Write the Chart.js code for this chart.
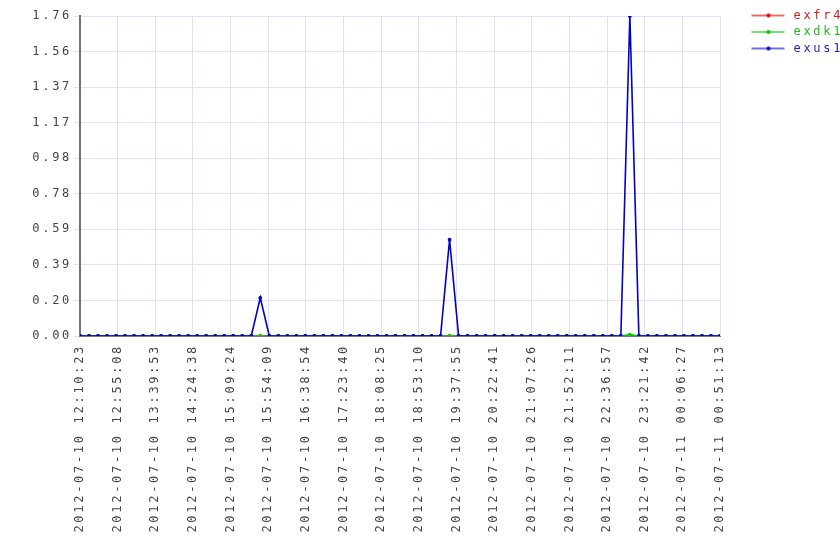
<!DOCTYPE html>
<html>
<head>
<meta charset="utf-8">
<script src="https://cdn.jsdelivr.net/npm/chart.js@4.4.1/dist/chart.umd.min.js"></script>
<style>
  html, body { margin: 0; padding: 0; background: #fff; }
</style>
</head>
<body>
<canvas id="chart" width="840" height="560"></canvas>
<script>
// x axis tick labels (evenly spaced over the time range)
const xTickLabels = [
    "2012-07-10 12:10:23", "2012-07-10 12:55:08", "2012-07-10 13:39:53",
    "2012-07-10 14:24:38", "2012-07-10 15:09:24", "2012-07-10 15:54:09",
    "2012-07-10 16:38:54", "2012-07-10 17:23:40", "2012-07-10 18:08:25",
    "2012-07-10 18:53:10", "2012-07-10 19:37:55", "2012-07-10 20:22:41",
    "2012-07-10 21:07:26", "2012-07-10 21:52:11", "2012-07-10 22:36:57",
    "2012-07-10 23:21:42", "2012-07-11 00:06:27", "2012-07-11 00:51:13"
];
const yTickLabels = ["0.00", "0.20", "0.39", "0.59", "0.78", "0.98", "1.17", "1.37", "1.56", "1.76"];
const yMax = 1.76;

const seriesNames = ["exfr4", "exdk1", "exus1"];

// 72 samples each
const exfr4 = [
    0, 0, 0, 0, 0, 0, 0, 0, 0, 0, 0, 0, 0, 0, 0, 0, 0, 0, 0, 0,
    0, 0, 0, 0, 0, 0, 0, 0, 0, 0, 0, 0, 0, 0, 0, 0, 0, 0, 0, 0,
    0, 0, 0, 0, 0, 0, 0, 0, 0, 0, 0, 0, 0, 0, 0, 0, 0, 0, 0, 0,
    0, 0, 0, 0, 0, 0, 0, 0, 0, 0, 0, 0
];
const exdk1 = [
    0, 0, 0, 0, 0, 0, 0, 0, 0, 0, 0, 0, 0, 0, 0, 0, 0, 0, 0, 0,
    0, 0, 0, 0, 0, 0, 0, 0, 0, 0, 0, 0, 0, 0, 0, 0, 0, 0, 0, 0,
    0, 0, 0, 0, 0, 0, 0, 0, 0, 0, 0, 0, 0, 0, 0, 0, 0, 0, 0, 0,
    0, 0.008, 0, 0, 0, 0, 0, 0, 0, 0, 0, 0
];
const exus1 = [
    0, 0, 0, 0, 0, 0, 0, 0, 0, 0, 0, 0, 0, 0, 0, 0, 0, 0, 0, 0,
    0.21, 0, 0, 0, 0, 0, 0, 0, 0, 0, 0, 0, 0, 0, 0, 0, 0, 0, 0, 0,
    0, 0.53, 0, 0, 0, 0, 0, 0, 0, 0, 0, 0, 0, 0, 0, 0, 0, 0, 0, 0,
    0, 1.76, 0, 0, 0, 0, 0, 0, 0, 0, 0, 0
];

const lineColors = ["#dd0000", "#00cc00", "#0000cc"];
const legendLineColors = ["#e07070", "#70e070", "#7070e0"];
const textColors = ["#cc2222", "#22bb22", "#2222bb"];

const lastIndex = exus1.length - 1;
const toPoints = arr => arr.map((v, i) => ({ x: i, y: v }));

function legendMark(line, dot) {
    const c = document.createElement("canvas");
    c.width = 63; c.height = 8;
    const g = c.getContext("2d");
    g.strokeStyle = line; g.lineWidth = 2;
    g.beginPath(); g.moveTo(27, 4); g.lineTo(60, 4); g.stroke();
    g.fillStyle = dot;
    g.beginPath(); g.arc(44, 4, 2, 0, Math.PI * 2); g.fill();
    return c;
}
const marks = seriesNames.map((_, i) => legendMark(legendLineColors[i], lineColors[i]));

// wide monospace look
const spacing = {
    id: "spacing",
    beforeUpdate(c) { c.ctx.letterSpacing = "2.7px"; },
    beforeDraw(c) { c.ctx.letterSpacing = "2.7px"; }
};

Chart.defaults.font.family = "'DejaVu Sans Mono', monospace";
Chart.defaults.font.size = 12;

const ctx = document.getElementById("chart").getContext("2d");
const chart = new Chart(ctx, {
    type: "line",
    data: {
        datasets: [
            { label: seriesNames[0], data: toPoints(exfr4), borderColor: lineColors[0], backgroundColor: lineColors[0], order: 3 },
            { label: seriesNames[1], data: toPoints(exdk1), borderColor: lineColors[1], backgroundColor: lineColors[1], order: 2 },
            { label: seriesNames[2], data: toPoints(exus1), borderColor: lineColors[2], backgroundColor: lineColors[2], order: 1 }
        ]
    },
    plugins: [spacing],
    options: {
        responsive: false,
        animation: false,
        layout: { padding: { top: 5, right: 0, bottom: 0, left: 0 } },
        elements: {
            line: { borderWidth: 1.6, tension: 0 },
            point: { radius: 1.9, borderWidth: 0 }
        },
        plugins: {
            tooltip: { enabled: false },
            legend: {
                position: "right",
                align: "start",
                maxWidth: 120,
                labels: {
                    usePointStyle: true,
                    pointStyleWidth: 63,
                    padding: 4.5,
                    generateLabels: chart => chart.data.datasets.map((ds, i) => ({
                        text: ds.label,
                        fontColor: textColors[i],
                        pointStyle: marks[i],
                        datasetIndex: i,
                        hidden: false,
                        lineWidth: 0,
                        strokeStyle: "transparent",
                        fillStyle: "transparent"
                    }))
                }
            }
        },
        scales: {
            x: {
                type: "linear",
                min: 0,
                max: lastIndex,
                afterBuildTicks: scale => {
                    scale.ticks = xTickLabels.map((_, k) => ({ value: lastIndex * k / (xTickLabels.length - 1) }));
                },
                afterFit: scale => { scale.height = 224; },
                grid: { color: "#e0e0ff", drawTicks: false },
                border: { color: "#777788", width: 1 },
                ticks: {
                    autoSkip: false,
                    maxRotation: 90,
                    minRotation: 90,
                    padding: 8,
                    color: "#444",
                    callback: (v, i) => xTickLabels[i]
                }
            },
            // empty spacer above the plot
            top: {
                type: "linear",
                position: "top",
                afterFit: scale => { scale.height = 11; },
                grid: { display: false },
                border: { display: false },
                ticks: { display: false }
            },
            y: {
                min: 0,
                max: yMax,
                afterBuildTicks: scale => {
                    scale.ticks = yTickLabels.map((_, k) => ({ value: yMax * k / (yTickLabels.length - 1) }));
                },
                afterFit: scale => { scale.width = 80; },
                grid: { color: "#e0e0ff", tickLength: 6 },
                border: { color: "#707080", width: 2 },
                ticks: {
                    padding: 2,
                    color: "#444",
                    callback: (v, i) => yTickLabels[i]
                }
            }
        }
    }
});
</script>
</body>
</html>
